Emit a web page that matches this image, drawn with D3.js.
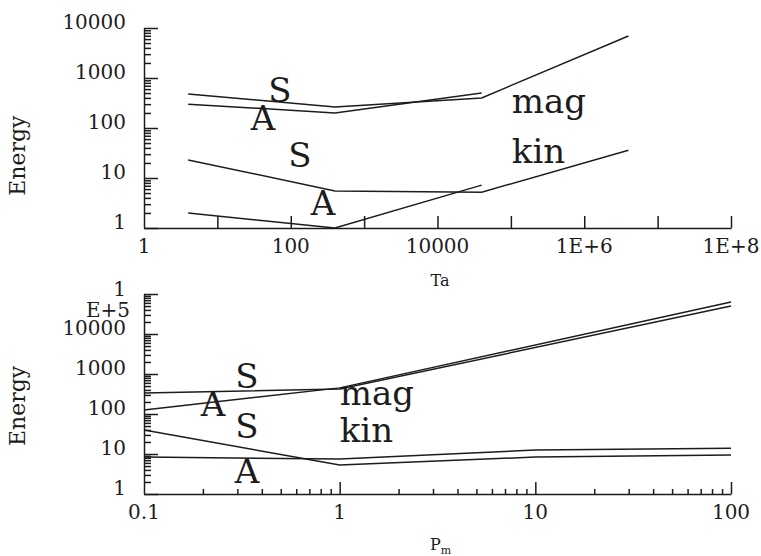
<!DOCTYPE html>
<html>
<head>
<meta charset="utf-8">
<script src="https://cdn.jsdelivr.net/npm/d3@7"></script>
<style>
  body { margin: 0; background: #fff; }
  svg { display: block; }
  .axis path, .axis line { stroke: #1c1c1c; stroke-width: 1.5; }
  .series { fill: none; stroke: #1c1c1c; stroke-width: 1.5; }
  text { font-family: "DejaVu Serif", serif; fill: #1c1c1c; }
  .tick-label { font-size: 20px; }
  .tag { font-size: 34px; }
</style>
</head>
<body>
<script>
// top panel: energy vs Ta
const taS = [4, 400, 4e4, 4e6];
const taA = [4, 400, 4e4];
const magS_ta = [480, 263, 400, 6900];
const kinS_ta = [23, 5.5, 5.2, 36];
const magA_ta = [300, 200, 500];
const kinA_ta = [2.0, 1.0, 7.2];

// bottom panel: energy vs Pm
const pmMag = [0.1, 1, 100];
const pmKin = [0.1, 1, 10, 100];
const magS_pm = [335, 420, 50000];
const magA_pm = [126, 450, 63000];
const kinS_pm = [40, 5.3, 8.4, 9.4];
const kinA_pm = [8.4, 7.5, 12.6, 14];

const taTicks = [1, 100, 1e4, 1e6, 1e8];
const taTickLabels = ['1', '100', '10000', '1E+6', '1E+8'];
const pmTicks = [0.1, 1, 10, 100];
const pmTickLabels = ['0.1', '1', '10', '100'];
const eTopTicks = [1, 10, 100, 1000, 10000];
const eTopLabels = ['1', '10', '100', '1000', '10000'];
const eBotTicks = [1, 10, 100, 1000, 10000];
const eBotLabels = ['1', '10', '100', '1000', '10000'];

// annotations: [text, x, y] in data units
const tagsTop = [['S', 71, 331], ['A', 42, 91], ['S', 133, 16.6], ['A', 275, 1.82]];
const tagsTopRight = [['mag', 1.03e5, 200], ['kin', 1.03e5, 20]];
const tagsBot = [['S', 0.336, 447], ['A', 0.225, 89], ['S', 0.336, 25], ['A', 0.336, 1.88]];
const tagsBotRight = [['mag', 1.0, 168], ['kin', 1.0, 20]];

const svg = d3.select('body').append('svg')
    .attr('width', 761)
    .attr('height', 556);

function minors(lo, hi) {
    const out = [];
    for (let d = lo; d < hi; d *= 10) {
        for (let k = 2; k <= 9; k++) out.push(d * k);
    }
    return out;
}

function panel(x, y, opts) {
    const g = svg.append('g');
    const x0 = x.range()[0], y0 = y.range()[0];

    // y axis: major + minor ticks pointing inside
    g.append('g').attr('class', 'axis')
        .attr('transform', 'translate(' + x0 + ',0)')
        .call(d3.axisLeft(y).tickValues(opts.yMajor).tickSize(-14).tickSizeOuter(0).tickFormat(''));
    g.append('g').attr('class', 'axis')
        .attr('transform', 'translate(' + x0 + ',0)')
        .call(d3.axisLeft(y).tickValues(minors(y.domain()[0], y.domain()[1])).tickSize(-7).tickFormat(''))
        .select('.domain').remove();

    // x axis
    g.append('g').attr('class', 'axis')
        .attr('transform', 'translate(0,' + y0 + ')')
        .call(d3.axisBottom(x).tickValues(opts.xMajor).tickSize(-12).tickSizeOuter(0).tickFormat(''));
    if (opts.xMinor) {
        g.append('g').attr('class', 'axis')
            .attr('transform', 'translate(0,' + y0 + ')')
            .call(d3.axisBottom(x).tickValues(opts.xMinor).tickSize(-5).tickFormat(''))
            .select('.domain').remove();
    }

    // tick labels
    g.selectAll('.xl').data(opts.xLabelVals).enter().append('text')
        .attr('class', 'tick-label')
        .attr('x', d => x(d))
        .attr('y', y0 + opts.xLabelDy)
        .attr('text-anchor', 'middle')
        .text((d, i) => opts.xLabels[i]);
    g.selectAll('.yl').data(opts.yLabelVals).enter().append('text')
        .attr('class', 'tick-label')
        .attr('x', x0 - 18)
        .attr('y', d => y(d) + 1)
        .attr('text-anchor', 'end')
        .text((d, i) => opts.yLabels[i]);

    const line = d3.line().x(d => x(d[0])).y(d => y(d[1]));
    opts.series.forEach(function(s) {
        g.append('path').attr('class', 'series')
            .attr('d', line(d3.zip(s[0], s[1])));
    });

    g.selectAll('.tag').data(opts.tags).enter().append('text')
        .attr('class', 'tag')
        .attr('x', d => x(d[1]))
        .attr('y', d => y(d[2]))
        .attr('text-anchor', 'middle')
        .text(d => d[0]);
    g.selectAll('.tagr').data(opts.tagsRight).enter().append('text')
        .attr('class', 'tag')
        .attr('x', d => x(d[1]))
        .attr('y', d => y(d[2]))
        .text(d => d[0]);
    return g;
}

const xTop = d3.scaleLog().domain([1, 1e8]).range([144, 731]);
const yTop = d3.scaleLog().domain([1, 1e4]).range([228, 28]);
const xBot = d3.scaleLog().domain([0.1, 100]).range([144, 731]);
const yBot = d3.scaleLog().domain([1, 1e5]).range([494, 294]);

panel(xTop, yTop, {
    yMajor: [1, 10, 100, 1000, 10000],
    xMajor: [10, 100, 1000, 1e4, 1e5, 1e6, 1e7, 1e8],
    xLabelVals: taTicks, xLabels: taTickLabels, xLabelDy: 25,
    yLabelVals: eTopTicks, yLabels: eTopLabels,
    series: [[taS, magS_ta], [taA, magA_ta], [taS, kinS_ta], [taA, kinA_ta]],
    tags: tagsTop, tagsRight: tagsTopRight
});

const bot = panel(xBot, yBot, {
    yMajor: [1, 10, 100, 1000, 10000, 1e5],
    xMajor: [1, 10, 100],
    xMinor: minors(0.1, 100),
    xLabelVals: pmTicks, xLabels: pmTickLabels, xLabelDy: 25,
    yLabelVals: eBotTicks, yLabels: eBotLabels,
    series: [[pmMag, magS_pm], [pmMag, magA_pm], [pmKin, kinS_pm], [pmKin, kinA_pm]],
    tags: tagsBot, tagsRight: tagsBotRight
});

// the 1E+5 label is split over two lines in the original
bot.append('text').attr('class', 'tick-label')
    .attr('x', 126).attr('y', yBot(1e5) + 2).attr('text-anchor', 'end').text('1');
bot.append('text').attr('class', 'tick-label')
    .attr('x', 130).attr('y', yBot(1e5) + 23).attr('text-anchor', 'end').text('E+5');

// axis titles
svg.append('text').attr('font-size', 22)
    .attr('transform', 'translate(25,' + yTop(28) + ') rotate(-90)')
    .attr('text-anchor', 'middle').text('Energy');
svg.append('text').attr('font-size', 22)
    .attr('transform', 'translate(25,' + yBot(160) + ') rotate(-90)')
    .attr('text-anchor', 'middle').text('Energy');
svg.append('text').attr('font-size', 16)
    .attr('x', 440).attr('y', 286).attr('text-anchor', 'middle').text('Ta');
const pm = svg.append('text').attr('font-size', 16)
    .attr('x', 430).attr('y', 550);
pm.append('tspan').text('P');
pm.append('tspan').attr('font-size', 11).attr('dy', 4).text('m');
</script>
</body>
</html>
